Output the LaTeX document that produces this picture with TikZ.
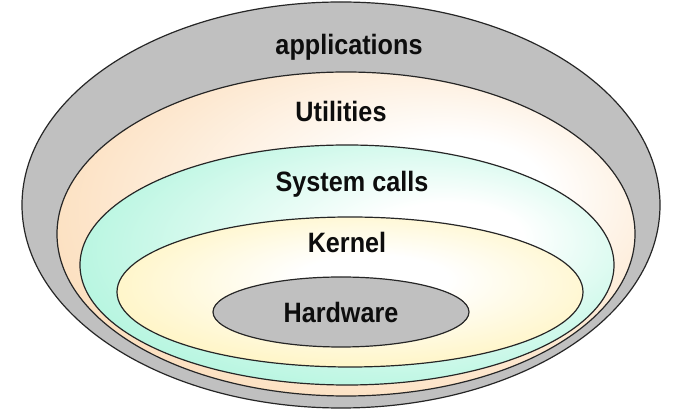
\documentclass[tikz,border=0pt]{standalone}
\usepackage{fontspec}
\newfontfamily\lblfont[FakeStretch=0.9]{Liberation Sans}
\definecolor{grayfill}{RGB}{192,192,192}
\definecolor{utilc}{RGB}{252,222,188}
\definecolor{sysc}{RGB}{178,245,222}
\definecolor{kernc}{RGB}{255,244,192}
\pgfdeclareradialshading{utilsh}{\pgfpoint{11bp}{8bp}}{color(0bp)=(white); color(8bp)=(white); color(32bp)=(utilc); color(50bp)=(utilc)}
\pgfdeclareradialshading{syssh}{\pgfpoint{11bp}{7bp}}{color(0bp)=(white); color(7bp)=(white); color(32bp)=(sysc); color(50bp)=(sysc)}
\pgfdeclareradialshading{kernsh}{\pgfpoint{3bp}{5bp}}{color(0bp)=(white); color(8bp)=(white); color(30bp)=(kernc); color(50bp)=(kernc)}
\tikzset{
  ring/.style={draw=black!85, line width=1.2pt},
  lbl/.style={font=\lblfont\bfseries\fontsize{28}{30}\selectfont, text=black!95, anchor=base, inner sep=0pt}
}
\begin{document}
\begin{tikzpicture}[x=1pt,y=1pt]
\useasboundingbox[fill=white] (0,0) rectangle (685,417);
% outer: applications
\path[ring, fill=grayfill] (341,212) ellipse [x radius=319, y radius=203];
% utilities
\path[ring, shading=utilsh] (346,183) ellipse [x radius=289, y radius=162];
% system calls
\path[ring, shading=syssh] (347,152) ellipse [x radius=267, y radius=120];
% kernel
\path[ring, shading=kernsh] (350,125) ellipse [x radius=233, y radius=75];
% hardware
\path[ring, fill=grayfill] (341,105) ellipse [x radius=128, y radius=35];
\node[lbl] (app) at (349,362) {applications};
\node[lbl] (util) at (341,295) {Utilities};
\node[lbl] (sys) at (352,225) {System calls};
\node[lbl] (kern) at (347,164) {Kernel};
\node[lbl] (hw) at (341,94) {Hardware};
\end{tikzpicture}
\end{document}
